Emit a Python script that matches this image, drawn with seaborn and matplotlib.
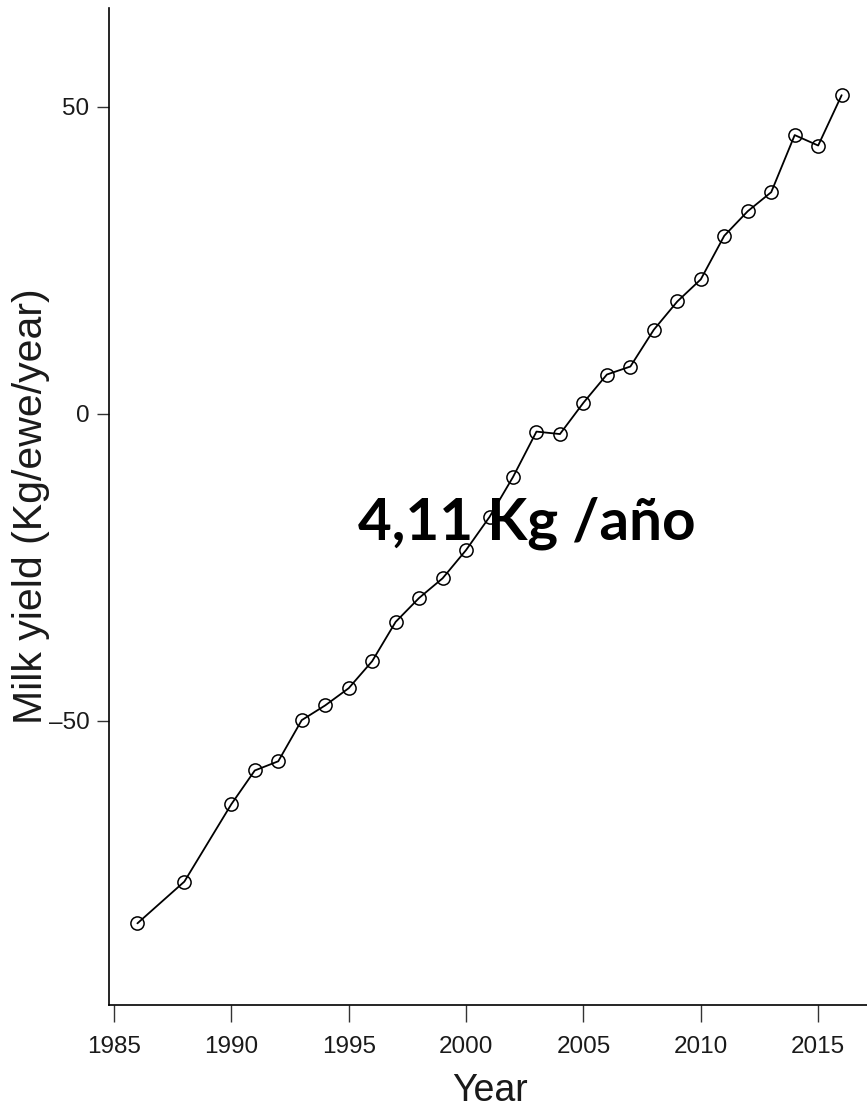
import matplotlib
matplotlib.use('Agg')
import matplotlib.pyplot as plt
import seaborn as sns
import pandas as pd

# milk yield trend values
years = [1986, 1988, 1990, 1991, 1992, 1993, 1994, 1995, 1996, 1997,
         1998, 1999, 2000, 2001, 2002, 2003, 2004, 2005, 2006, 2007,
         2008, 2009, 2010, 2011, 2012, 2013, 2014, 2015, 2016]
milk = [-83.0, -76.2, -63.6, -58.1, -56.6, -49.9, -47.5, -44.7, -40.3, -33.9,
        -30.0, -26.8, -22.2, -16.8, -10.3, -2.9, -3.3, 1.8, 6.4, 7.7,
        13.7, 18.3, 21.9, 29.0, 33.0, 36.1, 45.4, 43.7, 51.9]
xticks = [1985, 1990, 1995, 2000, 2005, 2010, 2015]
yticks = [-50, 0, 50]
annotation = '4,11 Kg /año'

df = pd.DataFrame({'Year': years, 'milk': milk})

sns.set_style('ticks')
sans = ['Liberation Sans', 'DejaVu Sans']
plt.rcParams['font.family'] = sans

fig = plt.figure(figsize=(8.67, 11.10), dpi=100)
ax = fig.add_axes([109 / 867, 1 - 1005 / 1110, 1 - 109 / 867, (1005 - 8) / 1110])

sns.lineplot(data=df, x='Year', y='milk', ax=ax, color='black', linewidth=1.3,
             marker='o', markersize=9.5, markerfacecolor='none',
             markeredgecolor='black', markeredgewidth=1.1)

ax.set_xlim(1984.79, 2017.08)
ax.set_ylim(-96.3, 66.1)
ax.set_xticks(xticks)
ax.set_yticks(yticks)
ax.set_xticklabels([str(t) for t in xticks], fontsize=17.5, color='#1a1a1a')
ax.set_yticklabels(['\u201350', '0', '50'], fontsize=17.5, color='#1a1a1a')
ax.tick_params(axis='x', length=12, width=1, pad=10, color='#333333')
ax.tick_params(axis='y', length=9, width=1, pad=5, color='#333333')

for side in ['top', 'right']:
    ax.spines[side].set_visible(False)
for side in ['left', 'bottom']:
    ax.spines[side].set_linewidth(1.2)
    ax.spines[side].set_color('black')

ax.set_xlabel('Year', fontsize=27, color='#1a1a1a')
ax.xaxis.set_label_coords(0.503, -0.068)
ax.set_ylabel('Milk yield (Kg/ewe/year)', fontsize=29.5, color='#1a1a1a')
ax.yaxis.set_label_coords(-0.078, 0.5)

ax.text(2002.6, -20.5, annotation, ha='center', va='baseline', fontsize=42,
        fontweight='bold', family=['Lato', 'DejaVu Sans'], color='black')

fig.savefig('out.png', dpi=100)
